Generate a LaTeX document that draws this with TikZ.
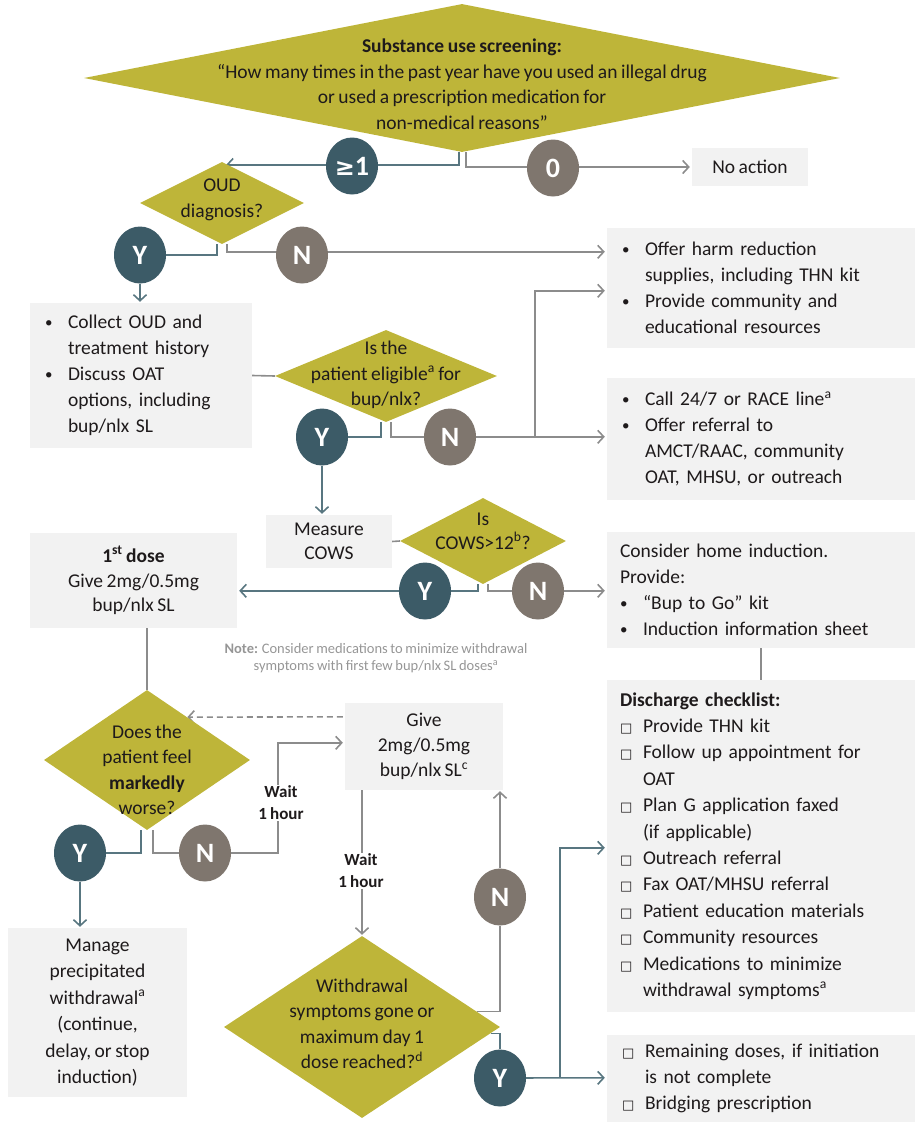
\documentclass[tikz,border=0pt]{standalone}
\usepackage{fontspec}
\setmainfont{Carlito}[WordSpace=0.8]
\newfontfamily\symf{DejaVu Sans}
\usetikzlibrary{shapes.geometric,arrows.meta,backgrounds,calc}
\definecolor{olivec}{RGB}{190,181,57}
\definecolor{ctal}{RGB}{60,91,103}
\definecolor{ctaupe}{RGB}{127,118,110}
\definecolor{boxg}{RGB}{242,242,242}
\definecolor{tline}{RGB}{88,118,128}
\definecolor{gline}{RGB}{140,140,140}
\definecolor{txtc}{RGB}{30,26,27}
\definecolor{notegray}{RGB}{150,150,150}
\newcommand{\bl}{\makebox[23pt][l]{\raisebox{1pt}{\fontsize{15}{15}\selectfont\textbullet}}}
\newcommand{\ind}{\hspace*{23pt}}
\newcommand{\cb}{\makebox[23pt][l]{{\symf\fontsize{13}{13}\selectfont □}}}
\begin{document}
\begin{tikzpicture}[x=1pt,y=-1pt,
  dia/.style={diamond, fill=olivec, inner sep=0pt},
  txt/.style={align=center, text=txtc, font=\fontsize{19.5}{25.5}\selectfont, inner sep=0pt},
  circ/.style={ellipse, minimum width=52pt, minimum height=57pt, inner sep=0pt, text=white, font=\fontsize{28}{28}\selectfont\bfseries},
  ycirc/.style={circ, fill=ctal},
  ncirc/.style={circ, fill=ctaupe},
  box/.style={rectangle, fill=boxg, inner sep=0pt, text=txtc, font=\fontsize{19.5}{26}\selectfont},
  wait/.style={fill=white, align=center, text=txtc, font=\fontsize{17}{22}\selectfont\bfseries, inner sep=1pt},
  tl/.style={draw=tline, line width=1.6pt},
  gl/.style={draw=gline, line width=1.6pt},
  arr/.style={-{Straight Barb[length=6pt,width=13pt]}}]
\useasboundingbox (0,0) rectangle (916,1124);

% top screening
\node[dia, minimum width=756pt, minimum height=148pt] (scr) at (462,78) {};
\node[txt] (scrt) at (462,84) {\textbf{Substance use screening:}\\“How many times in the past year have you used an illegal drug\\or used a prescription medication for\\non-medical reasons”};
\node[ycirc] (c1) at (352,166) {{\symf\fontsize{24}{24}\selectfont ≥}1};
\node[ncirc] (c0) at (553,168) {0};
\node[box, minimum width=116pt, minimum height=38pt] (noact) at (750,167) {No action};
\coordinate (oudin) at (226,165);

% OUD diagnosis
\node[dia, minimum width=164pt, minimum height=82pt] (oud) at (222,203) {};
\node[txt] (oudt) at (222,200) {OUD\\diagnosis?};
\node[ycirc] (y1) at (140,255) {Y};
\node[ncirc] (n1) at (302,255) {N};
\node[box, minimum width=308pt, minimum height=120pt, text width=278pt, align=left] (harm) at (761,288) {\bl Offer harm reduction\\\ind supplies, including THN kit\\\bl Provide community and\\\ind educational resources};
\node[box, minimum width=222pt, minimum height=145pt, text width=192pt, align=left] (collect) at (141,375.5) {\bl Collect OUD and\\\ind treatment history\\\bl Discuss OAT\\\ind options, including\\\ind bup/nlx SL};

% eligibility
\node[dia, minimum width=222pt, minimum height=92pt] (elig) at (386,376) {};
\node[txt] (eligt) at (386,375) {Is the\\patient eligible\textsuperscript{a} for\\bup/nlx?};
\node[ycirc] (y2) at (322,437) {Y};
\node[ncirc] (n2) at (450,437) {N};
\node[box, minimum width=308pt, minimum height=122pt, text width=278pt, align=left] (race) at (761,439) {\bl Call 24/7 or RACE line\textsuperscript{a}\\\bl Offer referral to\\\ind AMCT/RAAC, community\\\ind OAT, MHSU, or outreach};
\coordinate (br1) at (535,437);

% COWS
\node[box, minimum width=126pt, minimum height=53pt, align=center, font=\fontsize{19.5}{24}\selectfont] (meas) at (329,541.5) {Measure\\COWS};
\node[dia, minimum width=166pt, minimum height=86pt] (cows) at (483,541) {};
\node[txt, font=\fontsize{19.5}{24}\selectfont] (cowst) at (483,531) {Is\\COWS>12\textsuperscript{b}?};
\node[ycirc] (y3) at (425,591) {Y};
\node[ncirc] (n3) at (538,591) {N};
\node[box, minimum width=207pt, minimum height=95pt, align=center, font=\fontsize{19.5}{24.5}\selectfont] (dose1) at (133.5,580.5) {\textbf{1\textsuperscript{st} dose}\\Give 2mg/0.5mg\\bup/nlx SL};
\node[box, minimum width=308pt, minimum height=116pt, text width=282pt, align=left] (home) at (761,590) {Consider home induction.\\Provide:\\\bl “Bup to Go” kit\\\bl Induction information sheet};
\node[txt, text=notegray, font=\fontsize{14.5}{17}\selectfont] (note) at (376,658) {\textbf{Note:} Consider medications to minimize withdrawal\\symptoms with first few bup/nlx SL doses\textsuperscript{a}};

% markedly worse
\node[dia, minimum width=206pt, minimum height=140pt] (mark) at (147,760) {};
\node[txt] (markt) at (147,770) {Does the\\patient feel\\\textbf{markedly}\\worse?};
\node[box, minimum width=158pt, minimum height=87pt, align=center, font=\fontsize{19.5}{25}\selectfont] (give) at (424,746.5) {Give\\2mg/0.5mg\\bup/nlx SL\textsuperscript{c}};
\node[ycirc] (y4) at (80,853) {Y};
\node[ncirc] (n4) at (205,853) {N};
\coordinate (w1) at (278,853);
\node[wait] (wait1) at (281,803) {Wait\\1 hour};
\node[box, minimum width=179pt, minimum height=169pt, align=center, font=\fontsize{19.5}{26.4}\selectfont] (manage) at (97.5,1012.5) {Manage\\precipitated\\withdrawal\textsuperscript{a}\\(continue,\\delay, or stop\\induction)};
\node[wait] (wait2) at (361,871) {Wait\\1 hour};

% withdrawal
\node[dia, minimum width=276pt, minimum height=182pt] (wd) at (362,1027) {};
\node[txt] (wdt) at (362,1024) {Withdrawal\\symptoms gone or\\maximum day 1\\dose reached?\textsuperscript{d}};
\node[ncirc] (n5) at (500,897) {N};
\node[ycirc] (y5) at (500,1078) {Y};
\coordinate (br2) at (560,1078);
\node[box, minimum width=308pt, minimum height=332pt, text width=282pt, align=left, font=\fontsize{19.5}{26.4}\selectfont] (disch) at (761,846) {\textbf{Discharge checklist:}\\\cb Provide THN kit\\\cb Follow up appointment for\\\ind OAT\\\cb Plan G application faxed\\\ind (if applicable)\\\cb Outreach referral\\\cb Fax OAT/MHSU referral\\\cb Patient education materials\\\cb Community resources\\\cb Medications to minimize\\\ind withdrawal symptoms\textsuperscript{a}};
\node[box, minimum width=308pt, minimum height=87pt, text width=278pt, align=left] (bridge) at (761,1078.5) {\cb Remaining doses, if initiation\\\ind is not complete\\\cb Bridging prescription};

\begin{pgfonlayer}{background}
\draw[tl,arr] ($(scr.south)+(-3,0)$) |- (oudin);
\draw[gl,arr] ($(scr.south)+(4,0)$) |- ($(noact.west)+(-2,0)$);
\draw[tl] ($(oud.south)+(-5,0)$) |- (y1);
\draw[gl,arr] ($(oud.south)+(5,0)$) |- ($(harm.north west)+(-2,24)$);
\draw[tl,arr] (y1) -- ($(y1 |- collect.north)+(0,-1)$);
\draw[gl] (collect.east) -- (elig.west);
\draw[tl] ($(elig.south)+(-5,0)$) |- (y2);
\draw[gl,arr] ($(elig.south)+(5,0)$) |- ($(race.north west)+(-2,59)$);
\draw[gl,arr] (br1) |- ($(harm.north west)+(-2,63)$);
\draw[tl,arr] (y2) -- ($(y2 |- meas.north)+(0,-1)$);
\draw[gl] (meas.east) -- (cows.west);
\draw[tl,arr] ($(cows.south)+(-5,0)$) |- ($(dose1.north east)+(2,58)$);
\draw[gl,arr] ($(cows.south)+(5,0)$) |- ($(home.north west)+(-2,59)$);
\draw[gl] (dose1.south -| mark.north) -- (mark.north);
\draw[gl,dash pattern=on 6pt off 4pt,arr] ($(give.north west)+(-2,14)$) -- ($(mark.north)!0.39!(mark.east)$);
\draw[tl] ($(mark.south)+(-6,0)$) |- (y4);
\draw[gl,arr] ($(mark.south)+(6,0)$) |- (w1) |- ($(give.north west)+(-2,40)$);
\draw[tl,arr] (y4) -- ($(y4 |- manage.north)+(0,-1)$);
\draw[gl,arr] (wd.north |- give.south) -- ($(wd.north)+(0,-1)$);
\draw[gl] ($(wd.north)!0.83!(wd.east)$) -| (n5);
\draw[gl,arr] (n5) -- ($(n5 |- give.south)+(0,1)$);
\draw[tl] ($(wd.east)!0.07!(wd.south)$) -| (y5);
\draw[tl,arr] (y5) -- ($(bridge.north west)+(-2,43)$);
\draw[tl,arr] (br2) |- ($(disch.north west)+(-2,168)$);
\draw[gl] (home.south) -- (disch.north);
\end{pgfonlayer}
\end{tikzpicture}
\end{document}
